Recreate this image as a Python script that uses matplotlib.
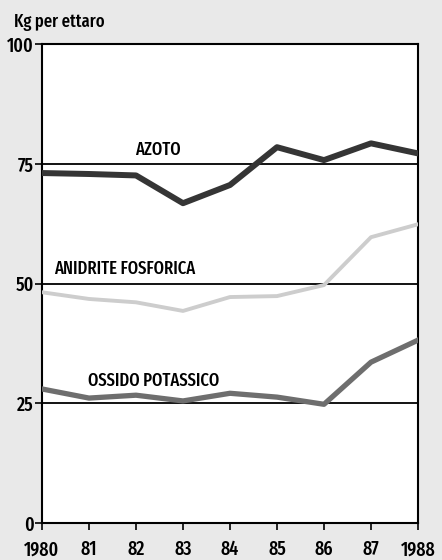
import matplotlib
matplotlib.use("Agg")
import matplotlib.pyplot as plt

years = [1980, 1981, 1982, 1983, 1984, 1985, 1986, 1987, 1988]
xlabels = ["1980", "81", "82", "83", "84", "85", "86", "87", "1988"]
azoto = [73.1, 72.9, 72.6, 66.8, 70.6, 78.5, 75.8, 79.3, 77.2]
anidrite = [48.2, 46.8, 46.1, 44.3, 47.2, 47.4, 49.7, 59.7, 62.4]
ossido = [28.0, 26.1, 26.7, 25.5, 27.1, 26.3, 24.8, 33.6, 38.2]
yticks = [0, 25, 50, 75, 100]

plt.rcParams['font.family'] = ['Fira Sans Extra Condensed', 'DejaVu Sans']

fig = plt.figure(figsize=(4.42, 5.6), dpi=100)
fig.patch.set_facecolor("#e9e9e9")
ax = fig.add_axes([0.095, 0.066, 0.8507, 0.855])
ax.set_facecolor("white")

for yv in [25, 50, 75]:
    ax.axhline(yv, color="black", lw=1.3, zorder=1)

ax.plot(years, azoto, color="#353535", lw=4.3, solid_joinstyle="round", zorder=3)
ax.plot(years, anidrite, color="#cdcdcd", lw=2.8, solid_joinstyle="round", zorder=3)
ax.plot(years, ossido, color="#6e6e6e", lw=3.8, solid_joinstyle="round", zorder=3)

ax.set_xlim(1980, 1988)
ax.set_ylim(0, 100)
ax.set_xticks(years)
ax.set_xticklabels(xlabels, fontsize=14, fontweight="medium")
ax.set_yticks(yticks)
ax.set_yticklabels([str(v) for v in yticks], fontsize=14, fontweight="medium")
ax.tick_params(axis="both", direction="out", length=5, width=1.2, color="black")
ax.tick_params(axis="y", pad=1)
ax.tick_params(axis="x", pad=7)
for s in ax.spines.values():
    s.set_linewidth(1.5)
    s.set_color("black")

ax.text(1981.99, 78.0, "AZOTO", fontsize=13, fontweight="medium", ha="left", va="center")
ax.text(1980.25, 53.0, "ANIDRITE FOSFORICA", fontsize=13, fontweight="medium", ha="left", va="center")
ax.text(1980.98, 29.6, "OSSIDO POTASSICO", fontsize=13, fontweight="medium", ha="left", va="center")

fig.text(14/442, 1 - 22/560, "Kg per ettaro", fontsize=13, fontweight="medium", ha="left", va="center")

fig.savefig("out.png", dpi=100, facecolor=fig.get_facecolor())
